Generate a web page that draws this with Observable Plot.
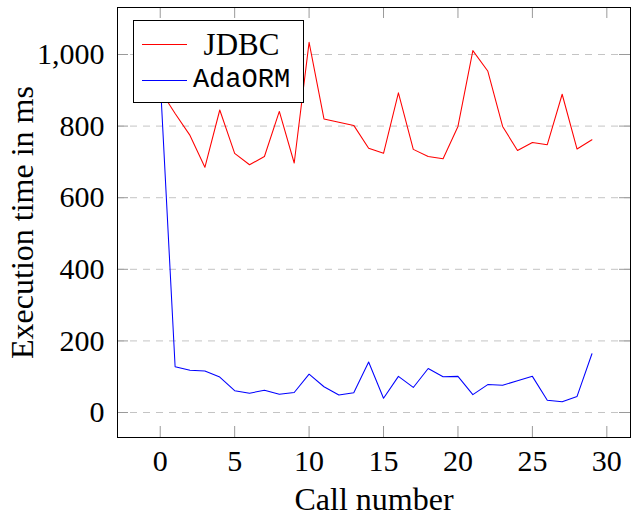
<!DOCTYPE html>
<html><head><meta charset="utf-8">
<script src="https://cdn.jsdelivr.net/npm/d3@7"></script>
<script src="https://cdn.jsdelivr.net/npm/@observablehq/plot@0.6"></script>
<style>
body{margin:0;background:#fff;}
#wrap{position:relative;width:631px;height:518px;}
#wrap svg text{font-family:"Liberation Serif", serif;}
#wrap svg g[aria-label="x-axis label"] text, #wrap svg g[aria-label="y-axis label"] text{font-size:32px;}
#legend{position:absolute;left:133px;top:20px;width:171px;height:83px;box-sizing:border-box;border:1px solid #000;background:#fff;}
#legend .lbl{position:absolute;left:0;width:215px;text-align:center;line-height:1;white-space:nowrap;}
#legend .sw{position:absolute;left:8px;width:45px;height:0;border-top:1.1px solid;}
</style></head><body><div id="wrap"></div>
<script>
const callNumbers = [0,1,2,3,4,5,6,7,8,9,10,11,12,13,14,15,16,17,18,19,20,21,22,23,24,25,26,27,28,29];
const jdbc = [900,835,774,685,845,724,692,715,841,697,1034,820,811,802,738,724,893,735,715,709,799,1011,954,799,732,754,748,889,736,762];
const adaorm = [930,128,118,116,99,61,54,62,51,56,107,72,49,55,141,40,101,70,123,100,101,50,78,76,89,101,34,30,45,164];
const seriesNames = ["JDBC","AdaORM"];
const seriesColors = ["#ff0000","#0000ff"];
const xTicks = [0,5,10,15,20,25,30];
const yTicks = [0,200,400,600,800,1000];

const rows = [];
callNumbers.forEach((c,i)=>{
  rows.push({call:c, time:jdbc[i], series:"JDBC"});
  rows.push({call:c, time:adaorm[i], series:"AdaORM"});
});

const W = 631, H = 518, mL = 117, mR = 1, mT = 7, mB = 81;
const innerW = W - mL - mR, innerH = H - mT - mB, tickLen = 11;
const tickColor = "#9a9a9a";
const serif = "Liberation Serif";

const chart = Plot.plot({
  width: W, height: H,
  marginLeft: mL, marginRight: mR, marginTop: mT, marginBottom: mB,
  style: {fontFamily: serif, fontSize: "30px", color: "#000", background: "#fff"},
  x: {domain: [-2.87, 31.59]},
  y: {domain: [-69.8, 1131.3]},
  color: {domain: seriesNames, range: seriesColors},
  marks: [
    Plot.ruleY(yTicks, {y: d => d, stroke: "#c4c4c4", strokeWidth: 1, strokeDasharray: "7,6"}),
    Plot.tickX(xTicks, {x: d => d, stroke: tickColor, insetBottom: innerH - tickLen}),
    Plot.tickX(xTicks, {x: d => d, stroke: tickColor, insetTop: innerH - tickLen}),
    Plot.tickY(yTicks, {y: d => d, stroke: tickColor, insetRight: innerW - tickLen}),
    Plot.tickY(yTicks, {y: d => d, stroke: tickColor, insetLeft: innerW - tickLen}),
    Plot.line(rows, {x: "call", y: "time", z: "series", stroke: "series", strokeWidth: 1.05}),
    Plot.frame({stroke: "#000", strokeWidth: 1}),
    Plot.axisX(xTicks, {tickSize: 0, tickPadding: 12, fontFamily: serif, fontSize: 30, label: "Call number", labelAnchor: "center", labelOffset: 72, labelArrow: "none"}),
    Plot.axisY(yTicks, {tickSize: 0, tickPadding: 13, fontFamily: serif, fontSize: 30, tickFormat: d3.format(","), label: "Execution time in ms", labelAnchor: "center", labelOffset: 107, labelArrow: "none"})
  ]
});
document.getElementById("wrap").appendChild(chart);

// legend (HTML overlay inside the plot frame)
const legend = d3.select("#wrap").append("div").attr("id","legend");
const legendFonts = ["'Liberation Serif', serif", "'Liberation Mono', monospace"];
const legendSizes = ["31px", "27px"];
seriesNames.forEach((name,i)=>{
  legend.append("div").attr("class","sw")
    .style("top", (i === 0 ? 23 : 59) + "px").style("border-top-color", seriesColors[i]);
  legend.append("div").attr("class","lbl")
    .style("top", (i === 0 ? 8 : 46) + "px")
    .style("font-family", legendFonts[i]).style("font-size", legendSizes[i])
    .text(name);
});
</script></body></html>
